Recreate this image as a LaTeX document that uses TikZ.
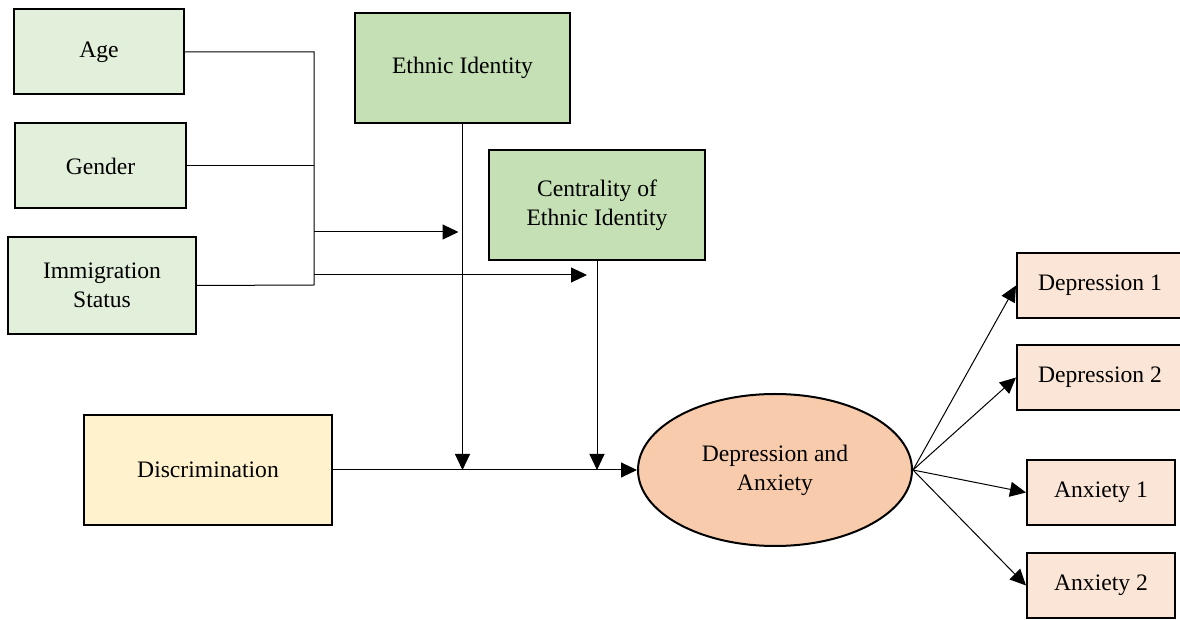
\documentclass[tikz,border=0pt]{standalone}
\usepackage{fontspec}
\setmainfont{Liberation Serif}
\usetikzlibrary{arrows.meta,shapes.geometric}
\definecolor{covfill}{HTML}{E2EFDA}
\definecolor{modfill}{HTML}{C5E0B4}
\definecolor{predfill}{HTML}{FFF2CC}
\definecolor{latfill}{HTML}{F8CBAD}
\definecolor{indfill}{HTML}{FBE5D6}
\begin{document}
\begin{tikzpicture}[x=0.5pt,y=-0.5pt,
  box/.style={draw=black,line width=1pt,inner sep=0pt,align=center,
    font=\fontsize{11.8pt}{14.5pt}\selectfont},
  link/.style={line width=0.5pt},
  arr/.style={link,-{Triangle[length=8pt,width=7.5pt]}}]
\useasboundingbox (0,0) rectangle (1180,620);
% covariates
\node[box,fill=covfill,minimum width=85pt,minimum height=42.5pt] (age) at (99,52) {Age};
\node[box,fill=covfill,minimum width=85.5pt,minimum height=42.5pt] (gender) at (100.5,166) {Gender};
\node[box,fill=covfill,minimum width=94pt,minimum height=48.5pt] (imm) at (102,285.5) {Immigration\\Status};
% moderators
\node[box,fill=modfill,minimum width=107.5pt,minimum height=55pt] (eth) at (462.5,68) {Ethnic Identity};
\node[box,fill=modfill,minimum width=108pt,minimum height=55pt] (cent) at (597,205) {Centrality of\\Ethnic Identity};
% predictor and outcome
\node[box,fill=predfill,minimum width=124pt,minimum height=55pt] (disc) at (208,470) {Discrimination};
\node[box,ellipse,fill=latfill,minimum width=137pt,minimum height=76pt] (da) at (775,470) {Depression and\\Anxiety};
% indicators
\node[box,fill=indfill,minimum width=83pt,minimum height=32.5pt] (d1) at (1100,285.5) {Depression 1};
\node[box,fill=indfill,minimum width=83pt,minimum height=32.5pt] (d2) at (1100,377.5) {Depression 2};
\node[box,fill=indfill,minimum width=74pt,minimum height=32.5pt] (a1) at (1101,492.5) {Anxiety 1};
\node[box,fill=indfill,minimum width=74pt,minimum height=32.5pt] (a2) at (1101,585.5) {Anxiety 2};
% covariate bracket
\coordinate (bartop) at (314,52);
\coordinate (barbot) at (314,285);
\coordinate (toeth) at (314,232);
\coordinate (tocent) at (314,275);
\draw[link] (age.east) -- (bartop) -- (barbot) -- (imm.east);
\draw[link] (gender.east) -- (gender.east -| bartop);
\draw[arr,shorten >=2pt] (toeth) -- (toeth -| eth.south);
\draw[arr,shorten >=5pt] (tocent) -- (tocent -| cent.south);
% moderation paths
\draw[arr] (eth.south) -- (eth.south |- disc.east);
\draw[arr] (cent.south) -- (cent.south |- disc.east);
% main path
\draw[arr] (disc.east) -- (da.west);
% measurement paths
\draw[arr] (da.east) -- (d1.west);
\draw[arr] (da.east) -- (d2.west);
\draw[arr] (da.east) -- (a1.west);
\draw[arr] (da.east) -- (a2.west);
\end{tikzpicture}
\end{document}
